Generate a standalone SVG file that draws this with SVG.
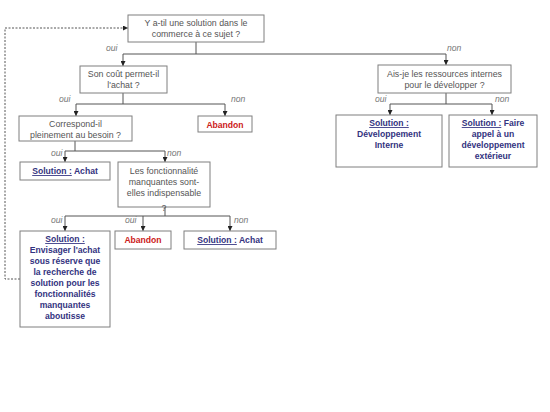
<svg xmlns="http://www.w3.org/2000/svg" width="550" height="412" viewBox="0 0 550 412">
<style>
.box{fill:#fff;stroke:#7f7f7f;stroke-width:1}
.q{font-family:"Liberation Sans",Arial,sans-serif;font-size:8.8px;fill:#555;text-anchor:middle}
.s{font-family:"Liberation Sans",Arial,sans-serif;font-size:8.6px;font-weight:bold;fill:#333380;text-anchor:middle}
.r{font-family:"Liberation Sans",Arial,sans-serif;font-size:8.6px;font-weight:bold;fill:#cc2020;text-anchor:middle}
.u{text-decoration:underline}
.l{font-family:"Liberation Sans",Arial,sans-serif;font-size:8.6px;font-style:italic;fill:#777}
.c{fill:none;stroke:#555;stroke-width:1}
.d{fill:none;stroke:#555;stroke-width:1;stroke-dasharray:2,1.5}
</style>
<defs>
<marker id="a" viewBox="0 0 6 6" refX="6" refY="3" markerWidth="5" markerHeight="5" orient="auto" markerUnits="userSpaceOnUse">
<path d="M0,0L6,3L0,6z" fill="#222"/>
</marker>
</defs>
<rect width="550" height="412" fill="#fff"/>
<g id="connectors">
<path class="c" d="M196,42V54M123,54H446"/>
<path class="c" d="M123,54V66" marker-end="url(#a)"/>
<path class="c" d="M446,54V65" marker-end="url(#a)"/>
<path class="c" d="M123,93V104M76,104H225"/>
<path class="c" d="M76,104V116" marker-end="url(#a)"/>
<path class="c" d="M225,104V116" marker-end="url(#a)"/>
<path class="c" d="M446,93V104M390,104H492"/>
<path class="c" d="M390,104V115" marker-end="url(#a)"/>
<path class="c" d="M492,104V115" marker-end="url(#a)"/>
<path class="c" d="M75,141V151M65,151H165"/>
<path class="c" d="M65,151V162" marker-end="url(#a)"/>
<path class="c" d="M165,151V162" marker-end="url(#a)"/>
<path class="c" d="M165,207V216M65,216H230"/>
<path class="c" d="M65,216V231" marker-end="url(#a)"/>
<path class="c" d="M143,216V231" marker-end="url(#a)"/>
<path class="c" d="M230,216V231" marker-end="url(#a)"/>
<path class="d" d="M20,279H5V28H128" marker-end="url(#a)"/>
<text class="l" x="106" y="51">oui</text>
<text class="l" x="447" y="51">non</text>
<text class="l" x="59" y="102">oui</text>
<text class="l" x="231" y="102">non</text>
<text class="l" x="375" y="102">oui</text>
<text class="l" x="495" y="102">non</text>
<text class="l" x="51" y="156">oui</text>
<text class="l" x="167" y="156">non</text>
<text class="l" x="51" y="223">oui</text>
<text class="l" x="125" y="223">oui</text>
<text class="l" x="234" y="223">non</text>
</g>
<g id="n1">
<rect class="box" x="128" y="15" width="136" height="27"/>
<text class="q" x="196" y="25.5">Y a-til une solution dans le</text>
<text class="q" x="196" y="36.5">commerce à ce sujet ?</text>
</g>
<g id="n2">
<rect class="box" x="80" y="66" width="87" height="27"/>
<text class="q" x="123.5" y="77">Son coût permet-il</text>
<text class="q" x="123.5" y="88">l'achat ?</text>
</g>
<g id="n3">
<rect class="box" x="378" y="65" width="133" height="28"/>
<text class="q" x="444.5" y="77">Ais-je les ressources internes</text>
<text class="q" x="444.5" y="88">pour le développer ?</text>
</g>
<g id="n4">
<rect class="box" x="19" y="116" width="113" height="25"/>
<text class="q" x="75.5" y="127">Correspond-il</text>
<text class="q" x="75.5" y="138">pleinement au besoin ?</text>
</g>
<g id="n5">
<rect class="box" x="198" y="116" width="54" height="16"/>
<text class="r" x="225" y="127.5">Abandon</text>
</g>
<g id="n6">
<rect class="box" x="336" y="115" width="106" height="52"/>
<text class="s" x="389" y="126"><tspan class="u">Solution :</tspan></text>
<text class="s" x="389" y="137">Développement</text>
<text class="s" x="389" y="148">Interne</text>
</g>
<g id="n7">
<rect class="box" x="449" y="115" width="88" height="52"/>
<text class="s" x="493" y="126"><tspan class="u">Solution :</tspan> Faire</text>
<text class="s" x="493" y="137">appel à un</text>
<text class="s" x="493" y="148">développement</text>
<text class="s" x="493" y="159">extérieur</text>
</g>
<g id="n8">
<rect class="box" x="20" y="162" width="90" height="18"/>
<text class="s" x="65" y="174"><tspan class="u">Solution :</tspan> Achat</text>
</g>
<g id="n9">
<rect class="box" x="118" y="162" width="92" height="45"/>
<text class="q" x="164" y="174">Les fonctionnalité</text>
<text class="q" x="164" y="185">manquantes sont-</text>
<text class="q" x="164" y="196">elles indispensable</text>
<text class="q" x="164" y="211">?</text>
</g>
<g id="n10">
<rect class="box" x="20" y="231" width="90" height="96"/>
<text class="s" x="65" y="242"><tspan class="u">Solution :</tspan></text>
<text class="s" x="65" y="253">Envisager l'achat</text>
<text class="s" x="65" y="264">sous réserve que</text>
<text class="s" x="65" y="275">la recherche de</text>
<text class="s" x="65" y="286">solution pour les</text>
<text class="s" x="65" y="297">fonctionnalités</text>
<text class="s" x="65" y="308">manquantes</text>
<text class="s" x="65" y="319">aboutisse</text>
</g>
<g id="n11">
<rect class="box" x="115" y="231" width="56" height="18"/>
<text class="r" x="143" y="243">Abandon</text>
</g>
<g id="n12">
<rect class="box" x="184" y="231" width="92" height="18"/>
<text class="s" x="230" y="243"><tspan class="u">Solution :</tspan> Achat</text>
</g>
</svg>
